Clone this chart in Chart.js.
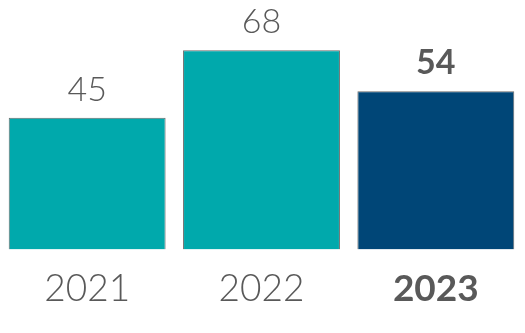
<!DOCTYPE html>
<html><head><meta charset="utf-8">
<script src="https://cdn.jsdelivr.net/npm/chart.js@4/dist/chart.umd.min.js"></script>
<style>html,body{margin:0;padding:0;background:#fff}#wrap{width:525px;height:333px}</style>
</head><body><div id="wrap"><canvas id="c"></canvas></div>
<script>
const categories = ['2021', '2022', '2023'];
const values = [45, 68, 54];
const barColors = ['#00A9AC', '#00A9AC', '#004677'];
const highlightIndex = 2;

const valueLabels = {
  id: 'valueLabels',
  afterDatasetsDraw(chart) {
    const ctx = chart.ctx;
    const meta = chart.getDatasetMeta(0);
    ctx.save();
    ctx.textAlign = 'center';
    ctx.textBaseline = 'bottom';
    ctx.fillStyle = '#595959';
    meta.data.forEach((bar, i) => {
      const bold = i === highlightIndex;
      ctx.font = (bold ? 'bold ' : '300 ') + '34px Lato';
      ctx.fillText(String(values[i]), bar.x, bar.y - 11);
    });
    ctx.restore();
  }
};

new Chart(document.getElementById('c'), {
  type: 'bar',
  data: {
    labels: categories,
    datasets: [{
      data: values,
      backgroundColor: barColors,
      borderColor: '#6b6b6b',
      borderWidth: 1,
      categoryPercentage: 1,
      barPercentage: 0.9
    }]
  },
  options: {
    responsive: true,
    maintainAspectRatio: false,
    animation: false,
    layout: { padding: { top: 15, bottom: 5, left: 0, right: 2 } },
    plugins: { legend: { display: false }, tooltip: { enabled: false } },
    scales: {
      x: {
        grid: { display: false, drawTicks: false },
        border: { display: false },
        ticks: {
          padding: 17,
          color: '#595959',
          font: (c) => ({ family: 'Lato', size: 37, weight: c.index === highlightIndex ? 'bold' : '300' })
        }
      },
      y: {
        display: false,
        min: 0,
        max: 80
      }
    }
  },
  plugins: [valueLabels]
});
</script></body></html>
